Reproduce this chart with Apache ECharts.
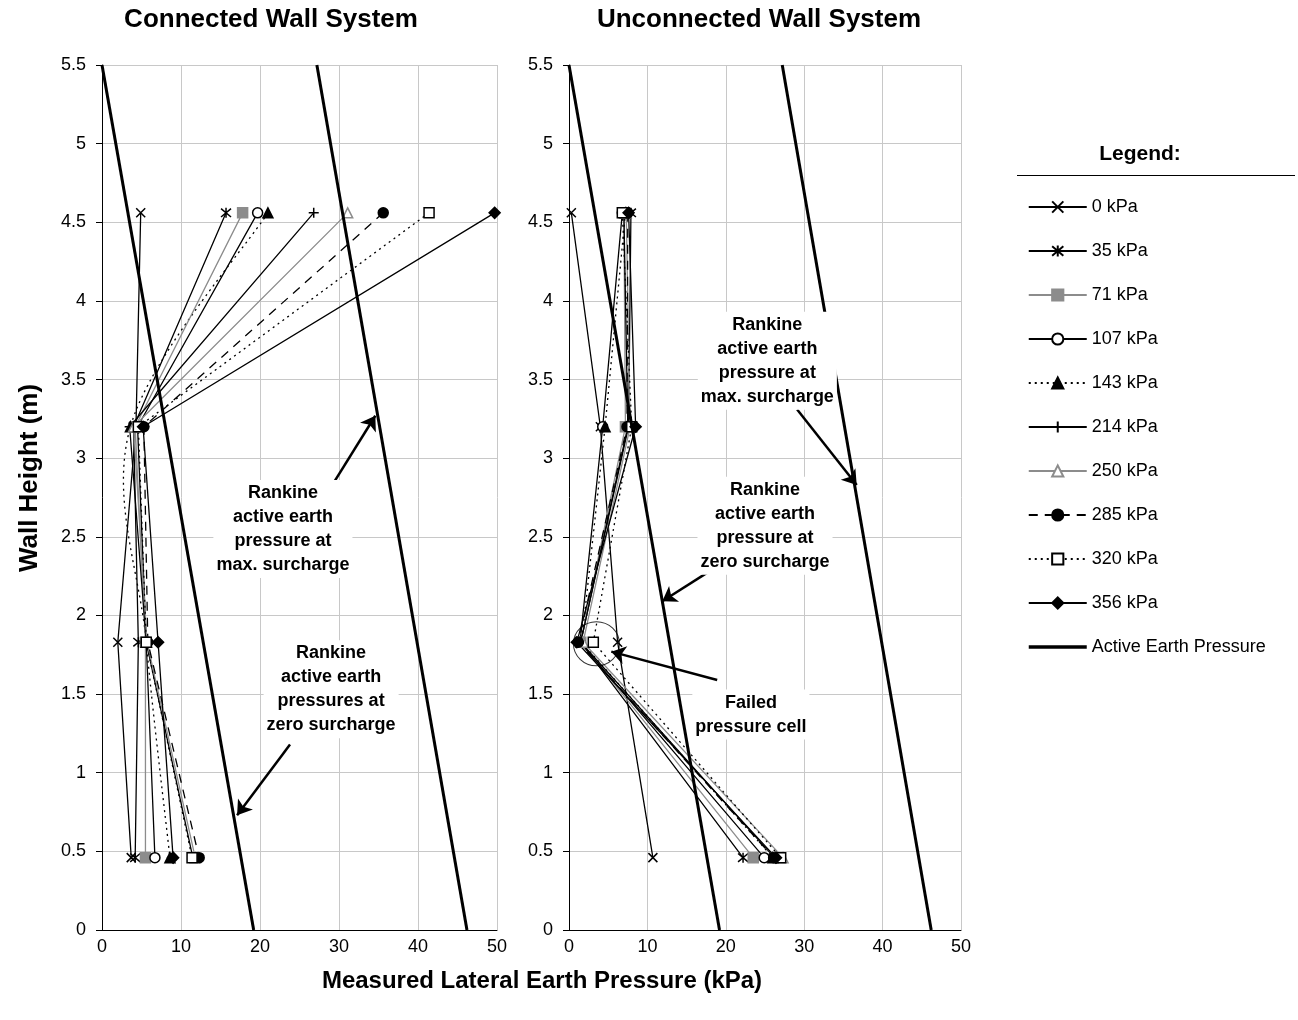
<!DOCTYPE html>
<html>
<head>
<meta charset="utf-8">
<script src="https://cdn.jsdelivr.net/npm/echarts@6/dist/echarts.min.js"></script>
<style>html,body{margin:0;padding:0;background:#fff}#c{width:1298px;height:1020px}</style>
</head>
<body>
<div id="c"></div>
<script>
// ---- data ----
const heights = [4.56, 3.2, 1.83, 0.46];
const seriesNames = ['0 kPa','35 kPa','71 kPa','107 kPa','143 kPa','214 kPa','250 kPa','285 kPa','320 kPa','356 kPa'];
// Connected wall system (kPa at each height)
const c0   = [4.9, 4.3, 2.0, 3.7];
const c35  = [15.7, 4.0, 4.6, 4.2];
const c71  = [17.8, 4.2, 5.5, 5.5];
const c107 = [19.7, 4.5, 5.6, 6.7];
const c143 = [21.0, 3.6, 5.6, 8.6];
const c214 = [26.8, 3.5, 5.6, 11.5];
const c250 = [31.1, 4.0, 5.7, 11.8];
const c285 = [35.6, 5.3, 5.8, 12.3];
const c320 = [41.4, 4.6, 5.6, 11.4];
const c356 = [49.7, 5.2, 7.1, 9.0];
// Unconnected wall system
const u0   = [0.3, 4.0, 6.2, 10.7];
const u35  = [7.9, 7.6, 1.5, 22.2];
const u71  = [7.0, 7.2, 1.5, 23.5];
const u107 = [6.8, 4.3, 1.4, 24.9];
const u143 = [7.2, 4.6, 1.6, 26.0];
const u214 = [7.0, 7.5, 1.5, 26.2];
const u250 = [7.3, 7.8, 1.8, 27.3];
const u285 = [7.5, 7.4, 1.2, 26.1];
const u320 = [6.8, 8.0, 3.1, 27.0];
const u356 = [7.6, 8.5, 1.0, 26.4];
// Rankine active earth pressure lines [pressure, height]
const rankineZero = [[0, 5.5], [19.2, 0]];
const rankineMax  = [[27.2, 5.5], [46.2, 0]];
// axis ticks
const xTicks = [0, 10, 20, 30, 40, 50];
const yTicks = [0, 0.5, 1, 1.5, 2, 2.5, 3, 3.5, 4, 4.5, 5, 5.5];
// annotations (data coordinates)
const leftNotes = [
  {text: 'Rankine\nactive earth\npressure at\nmax. surcharge', at: [22.9, 2.55], from: [28.9, 2.81], to: [34.6, 3.27]},
  {text: 'Rankine\nactive earth\npressures at\nzero surcharge', at: [29.0, 1.53], from: [23.8, 1.18], to: [17.1, 0.73]}
];
const rightNotes = [
  {text: 'Rankine\nactive earth\npressure at\nmax. surcharge', at: [25.3, 3.62], from: [29.1, 3.31], to: [36.7, 2.83]},
  {text: 'Rankine\nactive earth\npressure at\nzero surcharge', at: [25.0, 2.57], from: [18.2, 2.29], to: [11.9, 2.09]},
  {text: 'Failed\npressure cell', at: [23.2, 1.37], from: [18.9, 1.59], to: [5.4, 1.77]}
];
const failedCell = [[3.5, 1.82]];

// ---- styles ----
const FONT = 'Liberation Sans, Arial, Helvetica, sans-serif';
const GRAY = '#8c8c8c';
const X_PATH = 'path://M0,0L10,10M10,0L0,10';
const AST_PATH = 'path://M0,0L10,10M10,0L0,10M5,-1L5,11';
const PLUS_PATH = 'path://M5,0L5,10M0,5L10,5';
const styles = [
  {color:'#000', symbol:X_PATH, size:9, fill:'#000', line:'solid'},
  {color:'#000', symbol:AST_PATH, size:10, fill:'#000', line:'solid'},
  {color:GRAY, symbol:'rect', size:10, fill:GRAY, line:'solid'},
  {color:'#000', symbol:'circle', size:10, fill:'#fff', line:'solid'},
  {color:'#000', symbol:'triangle', size:10, fill:'#000', line:[2,4]},
  {color:'#000', symbol:PLUS_PATH, size:10, fill:'#000', line:'solid'},
  {color:GRAY, symbol:'triangle', size:10, fill:'#fff', line:'solid'},
  {color:'#000', symbol:'circle', size:10, fill:'#000', line:[9,7]},
  {color:'#000', symbol:'rect', size:10, fill:'#fff', line:[2,4]},
  {color:'#000', symbol:'diamond', size:11, fill:'#000', line:'solid'}
];
const connectedData = [c0,c35,c71,c107,c143,c214,c250,c285,c320,c356];
const unconnectedData = [u0,u35,u71,u107,u143,u214,u250,u285,u320,u356];
const SMOOTHED_LEFT = 4; // 143 kPa on connected wall is drawn smoothed (as in the source)

function pts(vals){ return vals.map((v,i)=>[v, heights[i]]); }

function makeSeries(dataSet, gi){
  return dataSet.map((vals, k) => {
    const st = styles[k];
    const hideLine = (gi === 0 && k === SMOOTHED_LEFT);
    return {
      name: seriesNames[k], type: 'line', xAxisIndex: gi, yAxisIndex: gi,
      data: pts(vals), symbol: st.symbol, symbolSize: st.size,
      lineStyle: {color: st.color, width: 1.3, type: st.line, opacity: hideLine ? 0 : 1},
      itemStyle: {color: st.fill, borderColor: st.color, borderWidth: 1.5},
      emphasis: {disabled: true}, animation: false, z: 3
    };
  });
}

// Smoothed (Catmull-Rom style) curve for the connected 143 kPa series, placed via the axis scales
function smoothSeries(vals, gi, st){
  return {
    name: 'smooth-143', type: 'custom', xAxisIndex: gi, yAxisIndex: gi,
    data: pts(vals), encode: {x: 0, y: 1}, silent: true, animation: false, z: 3,
    renderItem: function(params, api){
      if (params.dataIndex !== 0) return null;
      const p = vals.map((v,i) => api.coord([v, heights[i]]));
      let d = 'M' + p[0][0] + ',' + p[0][1];
      for (let i = 0; i < p.length - 1; i++) {
        const a = p[i - 1] || p[i], b = p[i], c = p[i + 1], e = p[i + 2] || p[i + 1];
        const c1 = [b[0] + (c[0] - a[0]) / 6, b[1] + (c[1] - a[1]) / 6];
        const c2 = [c[0] - (e[0] - b[0]) / 6, c[1] - (e[1] - b[1]) / 6];
        d += 'C' + c1[0] + ',' + c1[1] + ',' + c2[0] + ',' + c2[1] + ',' + c[0] + ',' + c[1];
      }
      return {type: 'path', shape: {pathData: d},
              style: {fill: null, stroke: st.color, lineWidth: 1.3, lineDash: st.line}};
    }
  };
}

function noteSeries(notes, gi){
  return {
    name: 'notes' + gi, type: 'line', xAxisIndex: gi, yAxisIndex: gi, data: [],
    silent: true, animation: false,
    markLine: {
      silent: true, animation: false,
      symbol: ['none', 'arrow'], symbolSize: [14, 14],
      lineStyle: {color: '#000', width: 2.5, type: 'solid'},
      label: {show: false},
      data: notes.map(n => [{coord: n.from}, {coord: n.to}])
    },
    markPoint: {
      silent: true, animation: false, symbol: 'rect', symbolSize: 1,
      itemStyle: {color: 'rgba(0,0,0,0)'},
      label: {show: true, position: 'inside', color: '#000', fontFamily: FONT, fontWeight: 'bold',
              fontSize: 18, lineHeight: 24, align: 'center', backgroundColor: '#fff', padding: [1, 3]},
      data: notes.map(n => ({coord: n.at, value: n.text, label: {formatter: n.text}}))
    },
    z: 5
  };
}

function rankine(gi){
  return [rankineZero, rankineMax].map(d => ({
    name: 'Active Earth Pressure', type: 'line', xAxisIndex: gi, yAxisIndex: gi,
    data: d, symbol: 'none', lineStyle: {color: '#000', width: 3},
    itemStyle: {color: '#000'}, animation: false, z: 4, emphasis: {disabled: true}
  }));
}

const xAxisBase = {
  type: 'value', min: xTicks[0], max: xTicks[xTicks.length-1], interval: xTicks[1]-xTicks[0],
  axisLine: {show: true, onZero: false, lineStyle: {color: '#000', width: 1}},
  axisTick: {show: false},
  axisLabel: {color: '#000', fontSize: 18, fontFamily: FONT, margin: 8},
  splitLine: {show: true, lineStyle: {color: '#c8c8c8', width: 1}}
};
const yAxisBase = {
  type: 'value', min: yTicks[0], max: yTicks[yTicks.length-1], interval: yTicks[1]-yTicks[0],
  axisLine: {show: true, onZero: false, lineStyle: {color: '#000', width: 1}},
  axisTick: {show: true, length: 6, lineStyle: {color: '#000'}},
  axisLabel: {color: '#000', fontSize: 18, fontFamily: FONT, margin: 16},
  splitLine: {show: true, lineStyle: {color: '#c8c8c8', width: 1}}
};

const legendData = seriesNames.map(n => ({name: n}));
legendData.push({name: 'Active Earth Pressure', itemStyle: {opacity: 0}, lineStyle: {width: 3.5, color: '#000'}});

const option = {
  backgroundColor: '#fff',
  animation: false,
  textStyle: {fontFamily: FONT},
  title: [
    {text: 'Connected Wall System', left: 266, top: 2, textAlign: 'center',
     textStyle: {fontSize: 26, fontWeight: 'bold', color: '#000', fontFamily: FONT}},
    {text: 'Unconnected Wall System', left: 754, top: 2, textAlign: 'center',
     textStyle: {fontSize: 26, fontWeight: 'bold', color: '#000', fontFamily: FONT}},
    {text: 'Measured Lateral Earth Pressure (kPa)', left: 537, top: 964, textAlign: 'center',
     textStyle: {fontSize: 24, fontWeight: 'bold', color: '#000', fontFamily: FONT}}
  ],
  grid: [
    {left: 102, top: 65, width: 395, height: 865, containLabel: false},
    {left: 569, top: 65, width: 392, height: 865, containLabel: false}
  ],
  xAxis: [Object.assign({gridIndex: 0}, xAxisBase), Object.assign({gridIndex: 1}, xAxisBase)],
  yAxis: [Object.assign({gridIndex: 0}, yAxisBase), Object.assign({gridIndex: 1}, yAxisBase)],
  legend: {
    orient: 'vertical', left: 1027, top: 198, padding: 0, itemWidth: 58, itemHeight: 14, itemGap: 26,
    textStyle: {fontSize: 18, color: '#000', fontFamily: FONT},
    data: legendData,
    selectedMode: false
  },
  graphic: [
    {type: 'text', x: 1140, y: 154,
     style: {text: 'Legend:', font: 'bold 21px ' + FONT, fill: '#000', textAlign: 'center', textVerticalAlign: 'middle'}},
    {type: 'line', shape: {x1: 1017, y1: 175.5, x2: 1295, y2: 175.5}, style: {stroke: '#000', lineWidth: 1}},
    {type: 'text', x: 30, y: 478, rotation: Math.PI / 2,
     style: {text: 'Wall Height (m)', font: 'bold 26px ' + FONT, fill: '#000', textAlign: 'center', textVerticalAlign: 'middle'}}
  ],
  series: [].concat(
    makeSeries(unconnectedData, 1), rankine(1), [noteSeries(rightNotes, 1)],
    makeSeries(connectedData, 0), [smoothSeries(c143, 0, styles[SMOOTHED_LEFT])], rankine(0), [noteSeries(leftNotes, 0)],
    [{
      name: 'failed', type: 'scatter', xAxisIndex: 1, yAxisIndex: 1, data: failedCell,
      symbol: 'circle', symbolSize: [46, 44], silent: true, animation: false,
      itemStyle: {color: 'rgba(0,0,0,0)', borderColor: '#000', borderWidth: 1}, z: 6
    }]
  )
};

const chart = echarts.init(document.getElementById('c'), null, {renderer: 'canvas'});
chart.setOption(option);
</script>
</body>
</html>
